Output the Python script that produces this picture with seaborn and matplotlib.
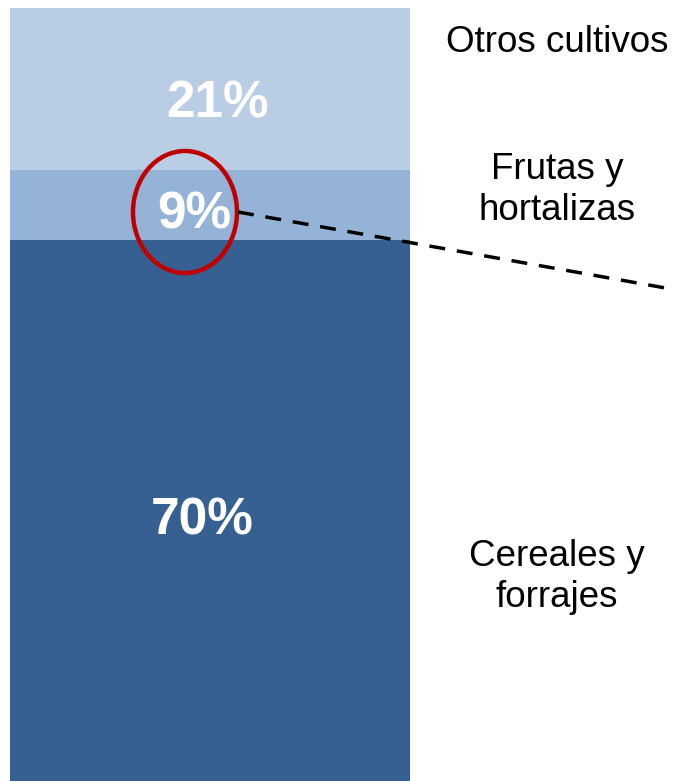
import matplotlib
matplotlib.use("Agg")
import matplotlib.pyplot as plt
import seaborn as sns
import pandas as pd
import numpy as np
from matplotlib.patches import Ellipse
from matplotlib.lines import Line2D

categories = ["Cereales y\nforrajes", "Frutas y\nhortalizas", "Otros cultivos"]
values = [70, 9, 21]
pct_labels = ["70%", "9%", "21%"]
colors = ["#376092", "#95B3D7", "#B9CDE5"]

sns.set_theme(style="white")
plt.rcParams["font.family"] = ["Liberation Sans", "DejaVu Sans"]

W, H = 675, 781
fig = plt.figure(figsize=(W / 100, H / 100), dpi=100)
ax = fig.add_axes([10 / W, 0, 400 / W, 773 / H])

cum = np.cumsum(values)
# draw from the top segment down so lower segments overlay
for i in reversed(range(len(values))):
    df = pd.DataFrame({"x": ["a"], "y": [cum[i]]})
    sns.barplot(data=df, x="x", y="y", color=colors[i], saturation=1,
                width=1.0, ax=ax, edgecolor="none", linewidth=0)

ax.set_xlim(-0.5, 0.5)
ax.set_ylim(0, 100)
ax.axis("off")

# percent labels inside segments
starts = np.concatenate([[0], cum[:-1]])
x_offsets = [-0.02, -0.04, 0.02]
y_adj = [-1.4, -1.3, -1.9]
for i in range(len(values)):
    yc = starts[i] + values[i] / 2 + y_adj[i]
    ax.text(x_offsets[i], yc, pct_labels[i], color="white", fontsize=37,
            fontweight="bold", ha="center", va="center")

# overlay axes in pixel coordinates for annotations
ov = fig.add_axes([0, 0, 1, 1])
ov.set_xlim(0, W)
ov.set_ylim(H, 0)
ov.axis("off")
ov.patch.set_alpha(0)

label_y = [577, 190, 42]
for cat, ly in zip(categories, label_y):
    ov.text(557, ly, cat, fontsize=26.5, color="black", ha="center",
            va="center", linespacing=1.22)

ov.add_patch(Ellipse((185, 212), 104, 122, fill=False, edgecolor="#C00000",
                     linewidth=3.2))
ov.add_line(Line2D([238, 674], [212, 289.5], color="black", linewidth=2.5,
                   linestyle=(0, (4.6, 3.4))))

fig.savefig("out.png", dpi=100)
